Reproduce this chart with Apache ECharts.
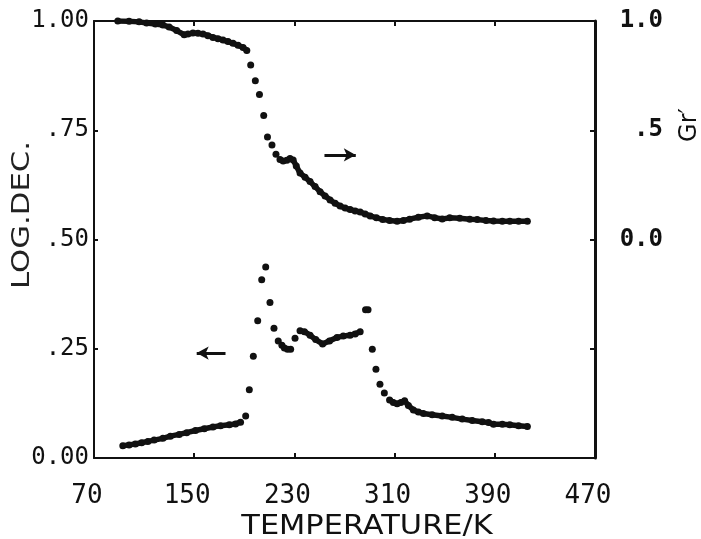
<!DOCTYPE html>
<html>
<head>
<meta charset="utf-8">
<script src="https://cdn.jsdelivr.net/npm/echarts@6/dist/echarts.min.js"></script>
<style>
  html, body { margin: 0; padding: 0; background: #fff; }
  #chart { width: 701px; height: 539px; }
</style>
</head>
<body>
<div id="chart"></div>
<script>
// temperature ticks (K)
const xLabels = [70, 150, 230, 310, 390, 470]
const xTicks = [150, 230, 310, 390]

// Gr' (right axis) - dense run before the drop, the sparse drop, dense run after
const grDenseA = [
  [89, 1.000], [98, 0.999], [106, 0.996], [112, 0.991], [119, 0.986], [125, 0.982],
  [130, 0.972], [136, 0.956], [142, 0.937], [145, 0.940], [149, 0.945], [153, 0.944],
  [157, 0.941], [161, 0.933], [165, 0.925], [169, 0.919], [173, 0.913], [177, 0.906],
  [181, 0.898], [185, 0.889], [189, 0.879], [192, 0.865]
]
const grSparse = [
  [195.1, 0.799], [198.8, 0.727], [202.1, 0.664], [205.5, 0.567], [208.5, 0.469],
  [212.1, 0.432], [215.3, 0.390]
]
const grDenseB = [
  [218.5, 0.366], [221, 0.359], [224, 0.363], [226.5, 0.371], [229, 0.364], [231.5, 0.336],
  [234.5, 0.304], [238.5, 0.285], [242.5, 0.265], [246.5, 0.242], [250.5, 0.219],
  [254.5, 0.199], [258.5, 0.181], [262.5, 0.166], [266.5, 0.153], [270.5, 0.144],
  [274.5, 0.137], [278.5, 0.131], [282.5, 0.126], [286.5, 0.117], [290.5, 0.108],
  [295.5, 0.099], [300.5, 0.092], [306, 0.087], [312, 0.084], [317, 0.087], [322, 0.093],
  [329, 0.102], [336, 0.108], [342, 0.100], [348, 0.094], [354, 0.099], [362, 0.097],
  [370, 0.093], [376, 0.091], [383, 0.087], [389, 0.085], [396, 0.084], [402, 0.084],
  [409, 0.084], [416, 0.084]
]

// LOG.DEC. (left axis)
const ldDenseA = [
  [93, 0.028], [98, 0.030], [103, 0.032], [108, 0.035], [113, 0.038], [118, 0.041],
  [125, 0.045], [131, 0.050], [138, 0.054], [144, 0.058], [151, 0.063], [158, 0.067],
  [165, 0.071], [171, 0.074], [178, 0.076], [183, 0.078], [187, 0.082]
]
const ldSparseA = [
  [191.1, 0.096], [194.0, 0.156], [197.2, 0.233], [200.7, 0.314], [203.9, 0.408],
  [207.1, 0.437], [210.5, 0.356], [213.7, 0.297], [217.1, 0.268]
]
const ldDenseB = [[220, 0.258], [222, 0.252], [224.5, 0.249], [227, 0.249]]
const ldSparseB = [[230.5, 0.274]]
const ldDenseC = [
  [234.5, 0.291], [238, 0.289], [242.5, 0.281], [247, 0.271], [252.5, 0.261],
  [258, 0.268], [264, 0.276], [269, 0.279], [274.5, 0.281], [278.5, 0.284], [282.5, 0.289]
]
const ldSparseC = [
  [286.8, 0.339], [288.8, 0.339], [292.2, 0.249], [295.1, 0.203], [298.3, 0.169], [301.8, 0.149]
]
const ldDenseD = [
  [306, 0.133], [309, 0.127], [312, 0.124], [315, 0.127], [318, 0.131], [321, 0.120],
  [325, 0.110], [329, 0.105], [333, 0.102], [340, 0.099], [348, 0.096], [356, 0.093],
  [364, 0.089], [372, 0.086], [380, 0.083], [385, 0.081], [389, 0.077], [396, 0.077],
  [402, 0.076], [409, 0.074], [416, 0.072]
]

// arrows telling which axis each curve uses
const grArrow = [[254, 0.387], [279, 0.387]]
const ldArrow = [[175, 0.240], [152, 0.240]]

const INK = '#111'
const monoFont = '"DejaVu Sans Mono", monospace'
const textFont = '"DejaVu Sans", sans-serif'

const chart = echarts.init(document.getElementById('chart'))

function denseLine(data, yAxisIndex) {
  return {
    type: 'line',
    data: data,
    yAxisIndex: yAxisIndex,
    showSymbol: false,
    silent: true,
    animation: false,
    lineStyle: { color: INK, width: 5.5, cap: 'round', join: 'round' },
  }
}

function dots(data, yAxisIndex, arrow) {
  return {
    type: 'scatter',
    data: data,
    yAxisIndex: yAxisIndex,
    symbolSize: 7,
    itemStyle: { color: INK, opacity: 1 },
    animation: false,
    markLine: {
      silent: true,
      symbol: ['none', 'arrow'],
      symbolSize: [10, 12],
      label: { show: false },
      lineStyle: { color: INK, width: 3, type: 'solid' },
      data: [[{ coord: arrow[0] }, { coord: arrow[1] }]],
    },
  }
}

const xCommon = {
  type: 'value',
  min: 70,
  max: 470,
  splitLine: { show: false },
  axisLine: { show: true, onZero: false, lineStyle: { color: INK, width: 2 } },
}

chart.setOption({
  backgroundColor: '#fff',
  animation: false,
  grid: { left: 94, right: 106, top: 21, bottom: 81 },
  xAxis: [
    Object.assign({}, xCommon, {
      position: 'bottom',
      axisTick: { show: true, inside: true, length: 5, customValues: xTicks,
        lineStyle: { color: INK, width: 2 } },
      axisLabel: {
        customValues: xLabels,
        margin: 25,
        padding: [0, 14, 0, 0],
        color: INK,
        fontFamily: monoFont,
        fontSize: 26,
      },
    }),
    Object.assign({}, xCommon, {
      position: 'top',
      axisTick: { show: true, inside: true, length: 5, customValues: xTicks,
        lineStyle: { color: INK, width: 2 } },
      axisLabel: { show: false },
    }),
  ],
  yAxis: [
    {
      type: 'value',
      position: 'left',
      min: 0,
      max: 1,
      interval: 0.25,
      splitLine: { show: false },
      axisLine: { show: true, lineStyle: { color: INK, width: 2 } },
      axisTick: { show: true, inside: true, length: 4, lineStyle: { color: INK, width: 2 } },
      axisLabel: {
        margin: 5,
        color: INK,
        fontFamily: monoFont,
        fontSize: 24,
        formatter(v) {
          const s = v.toFixed(2)
          return (v === 0 || v === 1) ? s : s.slice(1)
        },
      },
    },
    {
      type: 'value',
      position: 'right',
      min: -1,
      max: 1,
      interval: 0.5,
      splitLine: { show: false },
      axisLine: { show: true, lineStyle: { color: INK, width: 3 } },
      axisTick: { show: true, inside: true, length: 5, lineStyle: { color: INK, width: 2 } },
      axisLabel: {
        margin: 68,
        align: 'right',
        color: INK,
        fontFamily: monoFont,
        fontSize: 24,
        fontWeight: 'bold',
        formatter(v) {
          if (v < 0) return ''
          if (v === 0.5) return '.5'
          return v.toFixed(1)
        },
      },
    },
  ],
  graphic: [
    {
      type: 'text',
      x: 367,
      y: 527,
      scaleX: 1.17,
      style: {
        text: 'TEMPERATURE/K',
        fill: INK,
        font: '26px ' + textFont,
        textAlign: 'center',
        textVerticalAlign: 'middle',
      },
    },
    {
      type: 'text',
      x: 23,
      y: 215,
      rotation: Math.PI / 2,
      scaleX: 1.28,
      style: {
        text: 'LOG.DEC.',
        fill: '#222',
        font: '24px ' + textFont,
        textAlign: 'center',
        textVerticalAlign: 'middle',
      },
    },
    {
      type: 'text',
      x: 690,
      y: 125,
      rotation: Math.PI / 2,
      style: {
        text: 'Gr\u2032',
        fill: INK,
        font: '24px ' + textFont,
        textAlign: 'center',
        textVerticalAlign: 'middle',
      },
    },
  ],
  series: [
    denseLine(grDenseA, 1),
    denseLine(grDenseB, 1),
    dots(grDenseA.concat(grSparse, grDenseB), 1, grArrow),
    denseLine(ldDenseA, 0),
    denseLine(ldDenseB, 0),
    denseLine(ldDenseC, 0),
    denseLine(ldDenseD, 0),
    dots(ldDenseA.concat(ldSparseA, ldDenseB, ldSparseB, ldDenseC, ldSparseC, ldDenseD), 0, ldArrow),
  ],
})
</script>
</body>
</html>
